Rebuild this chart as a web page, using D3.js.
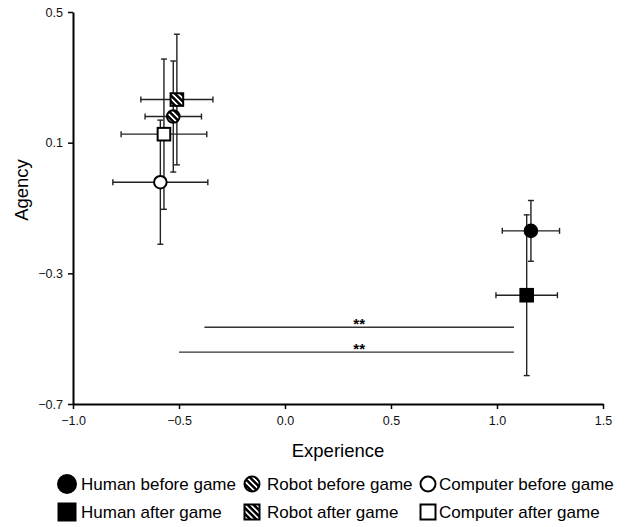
<!DOCTYPE html>
<html>
<head>
<meta charset="utf-8">
<script src="https://cdn.jsdelivr.net/npm/d3@7"></script>
<style>
html,body{margin:0;padding:0;background:#fff;}
svg{display:block;font-family:"Liberation Sans",Arial,sans-serif;}
</style>
</head>
<body>
<svg id="chart" width="629" height="527"></svg>
<script>
// ---- data ----
const groups = ["Human before game","Robot before game","Computer before game",
                "Human after game","Robot after game","Computer after game"];
const experience = [1.16, -0.527, -0.588, 1.14, -0.51, -0.571];
const agency     = [-0.17, 0.18, -0.021, -0.367, 0.232, 0.126];
const expErr     = [0.135, 0.133, 0.224, 0.145, 0.17, 0.202];
const agencyErr  = [0.093, 0.17, 0.19, 0.246, 0.2, 0.23];
const xTicks = [-1.0, -0.5, 0.0, 0.5, 1.0, 1.5];
const yTicks = [0.5, 0.1, -0.3, -0.7];
const sigFrom  = [-0.38, -0.5];
const sigTo    = [1.08, 1.08];
const sigLevel = [-0.465, -0.541];
const sigLabel = ["**", "**"];

// ---- styles (by group index) ----
const shape = ["circle","circle","circle","square","square","square"];
const fillKind = ["solid","hatch","open","solid","hatch","open"];

const svg = d3.select("#chart");
const x = d3.scaleLinear().domain([-1, 1.5]).range([73, 603]);
const y = d3.scaleLinear().domain([-0.7, 0.5]).range([404, 12]);

const defs = svg.append("defs");
const pat = defs.append("pattern").attr("id","hatch")
  .attr("patternUnits","userSpaceOnUse").attr("width",4.2).attr("height",4.2)
  .attr("patternTransform","rotate(-45)");
pat.append("rect").attr("width",4.2).attr("height",4.2).attr("fill","#000");
pat.append("rect").attr("x",0).attr("width",1.7).attr("height",4.2).attr("fill","#fff");

function fillFor(i){ return fillKind[i]==="solid" ? "#000" : fillKind[i]==="hatch" ? "url(#hatch)" : "#fff"; }

// axes
const xAxis = d3.axisBottom(x).tickValues(xTicks).tickFormat(d3.format(".1f")).tickSize(5).tickSizeOuter(0);
const yAxis = d3.axisLeft(y).tickValues(yTicks).tickFormat(d3.format(".1f")).tickSize(5).tickSizeOuter(0);
const gx = svg.append("g").attr("transform","translate(0,404)").call(xAxis);
const gy = svg.append("g").attr("transform","translate(73,0)").call(yAxis);
[gx, gy].forEach(g => {
  g.select(".domain").attr("stroke","#000").attr("stroke-width",2);
  g.selectAll(".tick line").attr("stroke","#000").attr("stroke-width",1.5);
  g.selectAll(".tick text").attr("fill","#111").attr("font-size",12.5)
    .attr("font-family","'Liberation Sans',Arial,sans-serif");
});
gx.selectAll(".tick text").attr("dy","1.05em");
gy.selectAll(".tick text").attr("x",-10);

svg.append("text").attr("x", x(0.25)).attr("y", 457).attr("text-anchor","middle")
  .attr("font-size",18.5).text("Experience");
svg.append("text").attr("transform",`translate(28,190) rotate(-90)`)
  .attr("text-anchor","middle").attr("font-size",18.5).text("Agency");

// significance lines
const sig = svg.append("g");
sigFrom.forEach((f,i) => {
  sig.append("line").attr("x1",x(f)).attr("x2",x(sigTo[i]))
    .attr("y1",y(sigLevel[i])).attr("y2",y(sigLevel[i]))
    .attr("stroke","#333").attr("stroke-width",1.3);
  sig.append("text").attr("x",x(0.35)).attr("y",y(sigLevel[i])+2)
    .attr("text-anchor","middle").attr("font-size",15).attr("font-weight","bold")
    .text(sigLabel[i]);
});

// error bars
const eb = svg.append("g").attr("stroke","#222").attr("stroke-width",1.4);
const cap = 3;
groups.forEach((g,i) => {
  const cx = x(experience[i]), cy = y(agency[i]);
  const xl = x(experience[i]-expErr[i]), xr = x(experience[i]+expErr[i]);
  const yt = y(agency[i]+agencyErr[i]), yb = y(agency[i]-agencyErr[i]);
  eb.append("line").attr("x1",xl).attr("x2",xr).attr("y1",cy).attr("y2",cy);
  eb.append("line").attr("x1",xl).attr("x2",xl).attr("y1",cy-cap).attr("y2",cy+cap);
  eb.append("line").attr("x1",xr).attr("x2",xr).attr("y1",cy-cap).attr("y2",cy+cap);
  eb.append("line").attr("x1",cx).attr("x2",cx).attr("y1",yt).attr("y2",yb);
  eb.append("line").attr("x1",cx-cap).attr("x2",cx+cap).attr("y1",yt).attr("y2",yt);
  eb.append("line").attr("x1",cx-cap).attr("x2",cx+cap).attr("y1",yb).attr("y2",yb);
});

// markers
function marker(sel, i, cx, cy, r){
  if (shape[i]==="circle") {
    sel.append("circle").attr("cx",cx).attr("cy",cy).attr("r",r)
      .attr("fill",fillFor(i)).attr("stroke","#000").attr("stroke-width",2);
  } else {
    sel.append("rect").attr("x",cx-r).attr("y",cy-r).attr("width",2*r).attr("height",2*r)
      .attr("fill",fillFor(i)).attr("stroke","#000").attr("stroke-width",2);
  }
}
const mk = svg.append("g");
groups.forEach((g,i) => marker(mk, i, x(experience[i]), y(agency[i]), 6.3));

// legend
const colX = [67, 252, 428];
const txtX = [81, 267, 439];
const rowY = [484, 512];
const lg = svg.append("g");
groups.forEach((g,i) => {
  const c = i % 3, r = Math.floor(i / 3);
  const cx = colX[c], cy = rowY[r];
  const rad = fillKind[i]==="solid" ? (shape[i]==="circle" ? 9 : 8.5) : (shape[i]==="circle" ? 7.5 : 7.5);
  marker(lg, i, cx, cy, rad);
  lg.append("text").attr("x", txtX[c]).attr("y", cy).attr("dy","0.35em")
    .attr("font-size",17).text(g);
});
</script>
</body>
</html>
